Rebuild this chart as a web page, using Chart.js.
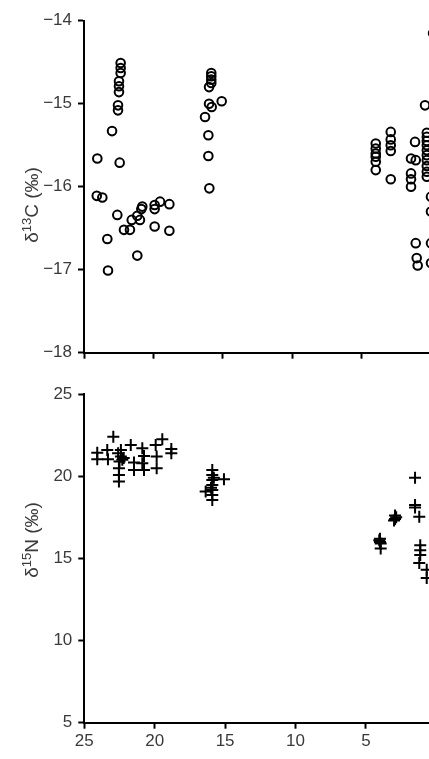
<!DOCTYPE html>
<html><head><meta charset="utf-8">
<script src="https://cdn.jsdelivr.net/npm/chart.js@4/dist/chart.umd.min.js"></script>
<style>
html,body{margin:0;padding:0;background:#fff;overflow:hidden;}
#wrap{position:relative;width:429px;height:759px;overflow:hidden;background:#fff;}
#c1{position:absolute;left:0;top:0;}
#c2{position:absolute;left:0;top:370px;}
</style></head><body>
<div id="wrap">
<canvas id="c1" width="470" height="370"></canvas>
<canvas id="c2" width="470" height="389"></canvas>
</div>
<script>
// ---- tick labels ----
const ageTicks = [25, 20, 15, 10, 5, 0];
const carbonTicks = [-14, -15, -16, -17, -18];
const nitrogenTicks = [25, 20, 15, 10, 5];
const carbonTitle = ['δ', '13', 'C (‰)'];
const nitrogenTitle = ['δ', '15', 'N (‰)'];

// ---- δ13C series (circles) ----
const carbonAge = [
  22.36, 22.36, 22.36, 22.48, 22.48, 22.48, 22.55, 22.55,
  22.98, 24.04, 22.43, 24.08, 23.68, 22.60, 23.32, 23.27, 22.12, 21.69, 21.56, 21.16, 20.97,
  20.87, 20.80, 21.16, 19.91, 19.91, 19.52, 19.91, 18.85, 18.85,
  15.83, 15.83, 15.83, 15.83, 15.99, 15.08, 15.99, 15.80, 16.28, 16.04, 16.04, 15.97,
  0.43, 3.98, 3.98, 3.98, 3.98, 3.98, 3.98, 2.90, 2.90, 2.90, 2.90, 2.90,
  1.15, 1.44, 1.10, 1.44, 1.44, 1.44, 1.10, 1.03, 0.96,
  0.30, 0.30, 0.30, 0.30, 0.30, 0.30, 0.30, 0.30, 0.30, 0.30, 0.0, 0.0, 0.0, 0.0, -0.15
];
const carbonValue = [
  -14.51, -14.57, -14.63, -14.73, -14.79, -14.86, -15.02, -15.08,
  -15.33, -15.66, -15.71, -16.11, -16.13, -16.34, -16.63, -17.01, -16.52, -16.52, -16.40, -16.35, -16.40,
  -16.27, -16.24, -16.83, -16.22, -16.27, -16.18, -16.48, -16.21, -16.53,
  -14.63, -14.67, -14.71, -14.75, -14.80, -14.97, -15.00, -15.04, -15.16, -15.38, -15.63, -16.02,
  -15.02, -15.48, -15.54, -15.60, -15.64, -15.70, -15.80, -15.34, -15.43, -15.50, -15.57, -15.91,
  -15.46, -15.66, -15.68, -15.84, -15.91, -16.00, -16.68, -16.86, -16.95,
  -15.35, -15.40, -15.45, -15.50, -15.56, -15.62, -15.68, -15.75, -15.82, -15.88, -16.12, -16.30, -16.68, -16.92, -14.15
];

// ---- δ15N series (crosses) ----
const nitrogenAge = [
  24.08, 24.08, 22.94, 23.37, 23.32, 22.6, 22.4, 22.3, 22.5, 22.2, 22.4, 22.54, 22.54, 22.54,
  21.70, 21.47, 21.47, 20.88, 20.76, 20.88, 20.76, 19.93, 19.86, 19.86, 19.46, 18.82, 18.82,
  15.91, 15.91, 15.91, 15.91, 15.91, 15.91, 15.91, 15.8, 16.0, 15.08, 16.38,
  1.51, 1.51, 1.51, 1.21, 2.93, 2.93, 3.0, 2.85, 4.0, 4.0, 3.95, 4.05, 3.95,
  1.14, 1.14, 1.14, 1.21, 0.68, 0.68
];
const nitrogenValue = [
  21.43, 21.03, 22.40, 21.59, 21.03, 21.4, 21.2, 21.0, 20.9, 21.1, 21.6, 20.48, 20.07, 19.67,
  21.90, 20.83, 20.38, 21.70, 21.23, 20.78, 20.38, 21.90, 21.19, 20.48, 22.24, 21.65, 21.40,
  20.38, 20.07, 19.77, 19.46, 19.16, 18.86, 18.55, 19.9, 19.3, 19.81, 19.06,
  19.91, 18.25, 18.10, 17.53, 17.6, 17.4, 17.3, 17.5, 16.2, 16.0, 15.9, 16.1, 15.6,
  15.8, 15.5, 15.2, 14.72, 14.3, 13.8
];

const FONT = "'Liberation Sans', Arial, Helvetica, sans-serif";
const TXT = '#3a3a3a';
const fmt = v => (v < 0 ? '\u2212' + Math.abs(v) : String(v));
const toPoints = (xs, ys) => xs.map((x, i) => ({ x: x, y: ys[i] }));

function yTitlePlugin(parts, cx, cy) {
  return {
    id: 'yTitle',
    afterDraw(chart) {
      const ctx = chart.ctx;
      const big = 'normal 19px ' + FONT, small = 'normal 13px ' + FONT;
      ctx.save();
      ctx.fillStyle = TXT;
      ctx.textBaseline = 'alphabetic';
      ctx.textAlign = 'left';
      ctx.font = big; const w0 = ctx.measureText(parts[0]).width;
      ctx.font = small; const w1 = ctx.measureText(parts[1]).width;
      ctx.font = big; const w2 = ctx.measureText(parts[2]).width;
      const total = w0 + w1 + w2;
      ctx.translate(cx, cy);
      ctx.rotate(-Math.PI / 2);
      let x = -total / 2;
      const base = 7;
      ctx.font = big; ctx.fillText(parts[0], x, base); x += w0;
      ctx.font = small; ctx.fillText(parts[1], x, base - 7); x += w1;
      ctx.font = big; ctx.fillText(parts[2], x, base);
      ctx.restore();
    }
  };
}

function axisCommon() {
  return {
    grid: { display: true, drawOnChartArea: false, drawTicks: true, tickLength: 6, tickWidth: 2, tickColor: '#000' },
    border: { display: true, color: '#000', width: 2 }
  };
}

function makeChart(id, cfg) {
  const c = axisCommon();
  return new Chart(document.getElementById(id), {
    type: 'scatter',
    data: { datasets: [cfg.dataset] },
    options: {
      responsive: false,
      animation: false,
      events: [],
      layout: { padding: cfg.padding },
      plugins: { legend: { display: false }, tooltip: { enabled: false } },
      scales: {
        x: {
          type: 'linear', reverse: true, min: 0, max: 25,
          afterBuildTicks: s => { s.ticks = ageTicks.map(v => ({ value: v })); },
          afterFit: s => { s.height = cfg.xHeight; },
          ticks: { display: cfg.xLabels, autoSkip: false, maxRotation: 0, color: TXT,
                   font: { family: FONT, size: 17 }, padding: 2, callback: v => fmt(v) },
          grid: c.grid, border: c.border
        },
        y: {
          type: 'linear', min: cfg.yMin, max: cfg.yMax,
          afterBuildTicks: s => { s.ticks = cfg.yTicks.map(v => ({ value: v })); },
          afterFit: s => { s.width = cfg.yWidth; },
          ticks: { autoSkip: false, color: TXT, font: { family: FONT, size: 17 }, padding: 6,
                   callback: v => fmt(v) },
          grid: c.grid, border: c.border
        }
      }
    },
    plugins: [cfg.titlePlugin]
  });
}

makeChart('c1', {
  dataset: {
    data: toPoints(carbonAge, carbonValue),
    pointStyle: 'circle', pointRadius: 4.3, borderWidth: 2,
    borderColor: '#000', backgroundColor: 'rgba(0,0,0,0)', clip: false
  },
  padding: { top: 20.7, right: 39, bottom: 0, left: 0 },
  xHeight: 17.3, xLabels: false, yWidth: 84,
  yMin: -18, yMax: -14, yTicks: carbonTicks,
  titlePlugin: yTitlePlugin(carbonTitle, 31, 205)
});

makeChart('c2', {
  dataset: {
    data: toPoints(nitrogenAge, nitrogenValue),
    pointStyle: 'cross', pointRadius: 6, borderWidth: 2,
    borderColor: '#000', backgroundColor: '#000', clip: false
  },
  padding: { top: 24, right: 33.7, bottom: 0, left: 0 },
  xHeight: 36.3, xLabels: true, yWidth: 84.3,
  yMin: 5, yMax: 25, yTicks: nitrogenTicks,
  titlePlugin: yTitlePlugin(nitrogenTitle, 31, 540 - 370)
});
</script>
</body></html>
